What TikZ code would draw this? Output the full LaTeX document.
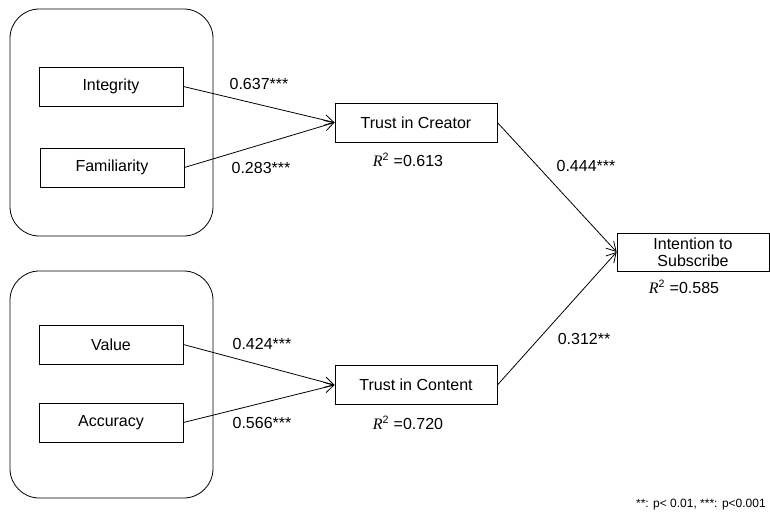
\documentclass[tikz,border=0pt]{standalone}
\usepackage{fontspec}
\setmainfont{Liberation Sans}
\newfontfamily\serifit{Liberation Serif}
\usetikzlibrary{arrows.meta}
\begin{document}
\begin{tikzpicture}[x=0.75pt,y=-0.75pt,
  every node/.style={font=\fontsize{12}{14}\selectfont, inner sep=0pt},
  group/.style={draw, rounded corners=22pt, line width=0.6pt, minimum width=152.25pt, minimum height=170.25pt},
  item/.style={draw, line width=0.6pt, minimum width=108pt, minimum height=29.25pt},
  trust/.style={draw, line width=0.6pt, minimum width=121.5pt, minimum height=29.25pt},
  outcome/.style={draw, line width=0.6pt, minimum width=114pt, minimum height=28.5pt, align=center, font=\fontsize{12}{13}\selectfont},
  path/.style={draw, line width=0.6pt, -{Straight Barb[length=7pt,width=8pt]}},
  coef/.style={font=\fontsize{12}{14}\selectfont},
  rsq/.style={font=\fontsize{12}{14}\selectfont}
]
\useasboundingbox (0,0) rectangle (770,514);

% construct groups
\node[group] (g1) at (111.5,122.5) {};
\node[group] (g2) at (111.5,384.5) {};

% indicators
\node[item] (int) at (111,86.5) {Integrity};
\node[item] (fam) at (112,167.5) {Familiarity};
\node[item] (val) at (111,344.5) {Value};
\node[item] (acc) at (111,422.5) {Accuracy};

% mediators and outcome
\node[trust] (tc) at (416,122.5) {Trust in Creator};
\node[trust] (tt) at (416,385) {Trust in Content};
\node[outcome] (is) at (693,252) {Intention to\\Subscribe};

% explained variance
\node[rsq] (r1) at (408,160) {{\serifit\itshape R}\textsuperscript{2} =0.613};
\node[rsq] (r2) at (408,423) {{\serifit\itshape R}\textsuperscript{2} =0.720};
\node[rsq] (r3) at (684,287) {{\serifit\itshape R}\textsuperscript{2} =0.585};

% structural paths
\draw[path] (int.east) -- (tc.west);
\draw[path] (fam.east) -- (tc.west);
\draw[path] (val.east) -- (tt.west);
\draw[path] (acc.east) -- (tt.west);
\draw[path] (tc.east) -- (is.west);
\draw[path] (tt.east) -- (is.west);

% path coefficients
\node[coef] (c1) at (259,84) {0.637***};
\node[coef] (c2) at (261,168) {0.283***};
\node[coef] (c3) at (262,344) {0.424***};
\node[coef] (c4) at (262,423) {0.566***};
\node[coef] (c5) at (586,166) {0.444***};
\node[coef] (c6) at (584,339) {0.312**};

% significance legend
\node[font=\fontsize{9}{11}\selectfont, anchor=east] (note) at (766,505) {**: p< 0.01, ***: p<0.001};
\end{tikzpicture}
\end{document}
